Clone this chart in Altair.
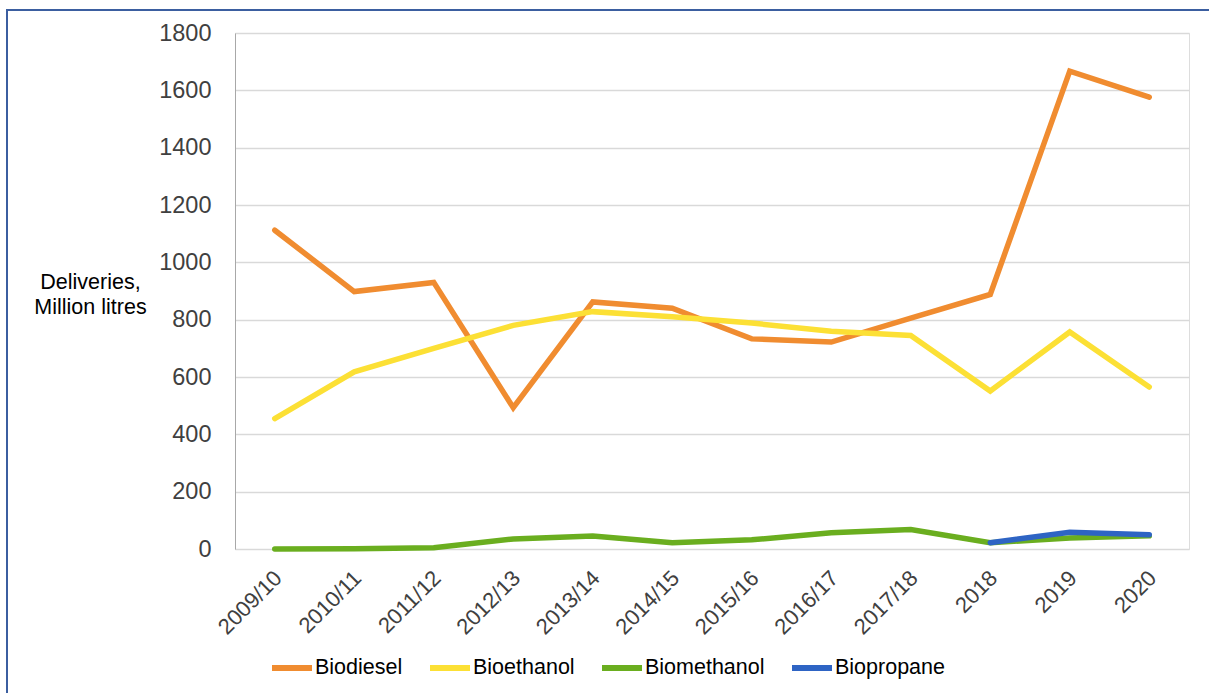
import altair as alt
import pandas as pd

years = ["2009/10", "2010/11", "2011/12", "2012/13", "2013/14", "2014/15",
         "2015/16", "2016/17", "2017/18", "2018", "2019", "2020"]
biodiesel = [1112, 898, 930, 493, 862, 840, 733, 722, 805, 888, 1667, 1576]
bioethanol = [455, 618, 700, 780, 828, 810, 788, 760, 745, 551, 757, 565]
biomethanol = [0, 1, 4, 35, 45, 22, 32, 57, 68, 22, 38, 46]
biopropane_years = ["2018", "2019", "2020"]
biopropane = [22, 58, 50]

series_names = ["Biodiesel", "Bioethanol", "Biomethanol", "Biopropane"]
series_colors = ["#F08C30", "#FCE035", "#6AAE1F", "#2E64C4"]

rows = []
for name, vals in [("Biodiesel", biodiesel), ("Bioethanol", bioethanol), ("Biomethanol", biomethanol)]:
    for y, v in zip(years, vals):
        rows.append({"year": y, "value": v, "series": name})
for y, v in zip(biopropane_years, biopropane):
    rows.append({"year": y, "value": v, "series": "Biopropane"})
df = pd.DataFrame(rows)

FONT = "Liberation Sans"

lines = alt.Chart(df).mark_line(strokeWidth=5.5, strokeCap="round").encode(
    x=alt.X("year:O", sort=years,
            scale=alt.Scale(type="point", padding=0.5),
            axis=alt.Axis(title=None, labelAngle=-45, labelFontSize=22, labelColor="#404040",
                          labelFont=FONT, domain=False, ticks=False, labelPadding=18,
                          labelOffset=-4, grid=False)),
    y=alt.Y("value:Q", scale=alt.Scale(domain=[0, 1800], nice=False),
            axis=alt.Axis(title=["Deliveries,", "Million litres"], titleAngle=0,
                          titleFontSize=21.5, titleFontWeight="normal", titleColor="#000000",
                          titleFont=FONT, titleAlign="center", titleBaseline="top",
                          titleX=-145, titleY=238, titleLineHeight=25,
                          values=list(range(0, 1801, 200)), format="d", labelFontSize=23.5,
                          labelColor="#404040", labelFont=FONT, labelPadding=24,
                          ticks=False, domain=True, domainColor="#A8A8A8", domainWidth=1,
                          grid=True, gridColor="#D9D9D9", gridWidth=1.5)),
    color=alt.Color("series:N", sort=series_names,
                    scale=alt.Scale(domain=series_names, range=series_colors),
                    legend=alt.Legend(title=None, orient="none", direction="horizontal",
                                      legendX=34, legendY=612, symbolType="stroke",
                                      symbolSize=1600, symbolStrokeWidth=6,
                                      labelFontSize=21.5, labelFont=FONT, labelColor="#000000",
                                      labelOffset=0, columnPadding=15)),
    order=alt.Order("series:N"),
)

frame = alt.Chart(pd.DataFrame({"a": [0]})).mark_rect(
    filled=False, stroke="#3B5EA0", strokeWidth=2
).encode(
    x=alt.value(-228), x2=alt.value(982), y=alt.value(-23), y2=alt.value(668)
)

chart = alt.layer(lines, frame).properties(
    width=954, height=516,
    autosize=alt.AutoSizeParams(type="none"),
    padding={"left": 235, "top": 33, "right": 20, "bottom": 144},
).configure_view(stroke=None).configure(background="#FFFFFF")

chart.save("out.html", embed_options={"renderer": "svg", "actions": False})
